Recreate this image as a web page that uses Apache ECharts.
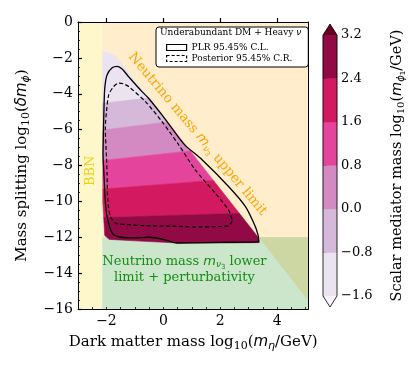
<!DOCTYPE html>
<html>
<head>
<meta charset="utf-8">
<script src="https://cdn.jsdelivr.net/npm/echarts@6/dist/echarts.min.js"></script>
<style>
  html, body { margin: 0; padding: 0; background: #fff; }
  #chart { width: 415px; height: 369px; }
</style>
</head>
<body>
<div id="chart"></div>
<script>
// axis ranges / ticks
var xMin = -3, xMax = 5.1, yMin = -16, yMax = 0;
var xTickValues = [-2, 0, 2, 4];

// colour bar (scalar mediator mass levels)
var cbarLevels = [-1.6, -0.8, 0.0, 0.8, 1.6, 2.4, 3.2];
var cbarColors = ['#ebe4f0', '#d5b8da', '#d389c2', '#e4449b', '#d31a60', '#920a45'];
var cbarUnder = '#f7f4f9', cbarOver = '#67001f';

// excluded regions
var bbnEdgeX = -2.15;              // BBN: x < -2.15
var lowerLimitY = -12;             // neutrino mass lower limit + perturbativity: y < -12
var upperLineX = [-2.15, 5.1];     // neutrino mass upper limit (region right of this line)
var upperLineY = [-0.84, -15.55];

// sampled region (outline) and its colour bands
var scatX = [-2.13, -1.7, 3.33, 3.37, 2.0, 0.5, -1.0, -1.9, -2.06, -2.13];
var scatY = [-1.62, -1.85, -12.0, -12.3, -12.32, -12.32, -12.2, -12.12, -11.9, -10.0];
var bandValue = [-1.2, -0.4, 0.4, 1.2, 2.0, 2.8];
var bandEdgeL = [-4.5, -6.0, -7.7, -9.3, -10.9];   // band boundaries at x = -2
var bandEdgeR = [-3.8, -5.2, -7.0, -8.8, -10.7];   // band boundaries at x = 2

// PLR 95.45% C.L. contour
var plrX = [3.34, 3.23, 2.88, 2.29, 1.36, 0.75, 0.3, -0.05, -0.52, -0.75, -1.22, -1.45, -1.62, -1.8, -1.98, -2.06, -2.09, -2.12, -2.09, -2.04, -1.98, -1.8, -1.5, -0.98, -0.5, -0.05, 0.48, 1.5, 2.5, 3.35, 3.34];
var plrY = [-11.95, -11.4, -10.28, -9.17, -7.68, -6.85, -5.92, -5.18, -4.25, -3.88, -3.05, -2.62, -2.47, -2.55, -2.95, -3.7, -5.0, -7.4, -8.4, -10.0, -10.84, -11.77, -12.0, -12.04, -12.0, -12.1, -12.32, -12.3, -12.28, -12.25, -11.95];

// Posterior 95.45% C.R. contour
var postX = [2.41, 2.29, 1.82, 1.12, 0.54, -0.05, -0.63, -1.22, -1.4, -1.57, -1.75, -1.92, -2.0, -2.04, -2.0, -1.98, -1.95, -1.86, -1.68, -1.2, -0.63, 0.3, 1.12, 2.0, 2.29, 2.41, 2.41];
var postY = [-11.0, -10.47, -9.54, -8.24, -6.85, -5.55, -4.44, -3.6, -3.45, -3.41, -3.6, -4.06, -5.0, -5.92, -7.5, -8.42, -10.0, -10.84, -11.21, -11.3, -11.36, -11.38, -11.43, -11.4, -11.36, -11.1, -11.0];

// text annotations (data coords)
var annoX = [1.2, -2.57, 0.74];
var annoY = [-6.25, -8.3, -13.8];

function zip(xs, ys) { return xs.map(function (x, i) { return [x, ys[i]]; }); }
function fmt(v, d) {
  v = Math.round(v * 10) / 10;
  var s = d ? Math.abs(v).toFixed(d) : String(Math.abs(v));
  return (v < 0 ? '\u2212' : '') + s;
}
function levelColor(v) {
  if (v < cbarLevels[0]) return cbarUnder;
  for (var i = 0; i < cbarColors.length; i++) {
    if (v < cbarLevels[i + 1]) return cbarColors[i];
  }
  return cbarOver;
}
function lineAt(x0, y0, x1, y1, x) { return y0 + (y1 - y0) * (x - x0) / (x1 - x0); }

// keep the part of poly above (or below) band edge e
function clipHalf(poly, keepAbove, e) {
  function side(p) {
    var d = p[1] - lineAt(-2, bandEdgeL[e], 2, bandEdgeR[e], p[0]);
    return keepAbove ? d : -d;
  }
  var out = [];
  for (var i = 0; i < poly.length; i++) {
    var a = poly[i], b = poly[(i + 1) % poly.length];
    var da = side(a), db = side(b);
    if (da >= 0) out.push(a);
    if ((da >= 0) !== (db >= 0)) {
      var t = da / (da - db);
      out.push([a[0] + t * (b[0] - a[0]), a[1] + t * (b[1] - a[1])]);
    }
  }
  return out;
}

var serif = 'DejaVu Serif';
function richStyles(size, color) {
  var sub = Math.round(size * 0.7);
  return {
    t: { fontFamily: serif, fontSize: size, color: color, lineHeight: size + 4 },
    i: { fontFamily: 'DejaVu Sans', fontStyle: 'italic', fontSize: size, color: color, lineHeight: size + 4 },
    s: { fontFamily: serif, fontSize: sub, color: color, padding: [Math.round(size * 0.5), 0, 0, 0] },
    si: { fontFamily: 'DejaVu Sans', fontStyle: 'italic', fontSize: sub, color: color, padding: [Math.round(size * 0.5), 0, 0, 0] },
    ss: { fontFamily: 'DejaVu Sans', fontSize: Math.round(size * 0.5), color: color, padding: [Math.round(size * 0.85), 0, 0, 0] }
  };
}

function renderRegions(params, api) {
  var pts = function (xs, ys) { return xs.map(function (x, i) { return api.coord([x, ys[i]]); }); };
  var xCut = upperLineX[0] + (lowerLimitY - upperLineY[0]) * (upperLineX[1] - upperLineX[0]) / (upperLineY[1] - upperLineY[0]);
  var yEnd = lineAt(upperLineX[0], upperLineY[0], upperLineX[1], upperLineY[1], xMax);
  return {
    type: 'group',
    children: [
      { type: 'polygon', shape: { points: pts([xMin, bbnEdgeX, bbnEdgeX, xMin], [yMax, yMax, yMin, yMin]) }, style: { fill: '#fff7cc' } },
      { type: 'polygon', shape: { points: pts([bbnEdgeX, xMax, xMax, bbnEdgeX], [yMax, yMax, lowerLimitY, lowerLimitY]) }, style: { fill: '#ffedcc' } },
      { type: 'polygon', shape: { points: pts([bbnEdgeX, xMax, xMax, bbnEdgeX], [lowerLimitY, lowerLimitY, yMin, yMin]) }, style: { fill: '#cce6cc' } },
      { type: 'polygon', shape: { points: pts([xCut, xMax, xMax], [lowerLimitY, lowerLimitY, yEnd]) }, style: { fill: '#ccd7a3' } }
    ]
  };
}

function renderBand(params, api) {
  var i = params.dataIndex;
  var poly = zip(scatX, scatY);
  if (i > 0) poly = clipHalf(poly, false, i - 1);
  if (i < bandEdgeL.length) poly = clipHalf(poly, true, i);
  if (poly.length < 3) return null;
  var c = levelColor(bandValue[i]);
  return {
    type: 'polygon',
    shape: { points: poly.map(function (p) { return api.coord(p); }) },
    style: { fill: c, stroke: c, lineWidth: 0.6 }
  };
}

function renderColorbar(params, api) {
  var kids = [];
  for (var i = 0; i < cbarColors.length; i++) {
    var a = api.coord([0, cbarLevels[i]]), b = api.coord([1, cbarLevels[i + 1]]);
    kids.push({ type: 'rect', shape: { x: a[0], y: b[1], width: b[0] - a[0], height: a[1] - b[1] },
      style: { fill: cbarColors[i], stroke: cbarColors[i], lineWidth: 0.4 } });
  }
  var lo = cbarLevels[0], hi = cbarLevels[cbarLevels.length - 1];
  var bl = api.coord([0, lo]), br = api.coord([1, lo]), tl = api.coord([0, hi]), tr = api.coord([1, hi]);
  var ext = 11, mid = (bl[0] + br[0]) / 2;
  var bTip = [mid, bl[1] + ext], tTip = [mid, tl[1] - ext];
  kids.push({ type: 'polygon', shape: { points: [bl, br, bTip] }, style: { fill: cbarUnder } });
  kids.push({ type: 'polygon', shape: { points: [tl, tr, tTip] }, style: { fill: cbarOver } });
  kids.push({ type: 'polygon', shape: { points: [tTip, tr, br, bTip, bl, tl] }, style: { fill: 'none', stroke: '#000', lineWidth: 0.8 } });
  return { type: 'group', children: kids };
}

var annoStyle = [
  { text: 'Neutrino mass {i|m}{si|ν}{ss|3} upper limit', color: '#ffa500', size: 13.5 },
  { text: 'BBN', color: '#f5cd10', size: 13 },
  { text: 'Neutrino mass {i|m}{si|ν}{ss|3} lower\nlimit + perturbativity', color: '#148c14', size: 13 }
];

function renderAnno(params, api) {
  var i = params.dataIndex;
  var p = api.coord([annoX[i], annoY[i]]);
  var rot = 0;
  if (i === 0) rot = -50 * Math.PI / 180;
  else if (i === 1) rot = Math.PI / 2;
  var st = annoStyle[i];
  var rich = richStyles(st.size, st.color);
  return {
    type: 'text', x: p[0], y: p[1], rotation: rot,
    style: {
      text: st.text, rich: rich, fill: st.color, fontFamily: serif, fontSize: st.size,
      lineHeight: st.size + 3, align: 'center', verticalAlign: 'middle'
    }
  };
}

var axisText = { fontFamily: serif, fontSize: 14, color: '#000' };

var chart = echarts.init(document.getElementById('chart'));
chart.setOption({
  animation: false,
  grid: [
    { left: 78, top: 22, width: 230.5, height: 287 },
    { left: 323, top: 35, width: 14, height: 261 }
  ],
  legend: {
    left: 156, top: 27, orient: 'vertical', selectedMode: false,
    padding: [16, 16, 4, 10], itemGap: 2, itemWidth: 20, itemHeight: 6,
    borderColor: '#000', borderWidth: 1, borderRadius: 3, backgroundColor: '#fff',
    textStyle: { fontFamily: serif, fontSize: 9, color: '#000' },
    data: [
      { name: 'PLR 95.45% C.L.', icon: 'rect', itemStyle: { color: '#fff', borderColor: '#000', borderWidth: 1.2 } },
      { name: 'Posterior 95.45% C.R.', icon: 'rect', itemStyle: { color: '#fff', borderColor: '#000', borderWidth: 1.2, borderType: [3, 2] } }
    ]
  },
  graphic: [{
    type: 'text', left: 160, top: 28, z: 100,
    style: { text: '{t|Underabundant DM + Heavy }{i|ν}', rich: richStyles(9, '#000') }
  }],
  xAxis: [
    {
      type: 'value', gridIndex: 0, min: xMin, max: xMax, interval: 0.5, position: 'bottom', z: 10,
      axisLine: { show: true, onZero: false, lineStyle: { color: '#000', width: 1 } },
      axisTick: { show: true, inside: true, length: 2, lineStyle: { color: '#000', width: 0.8 } },
      axisLabel: { show: false }, splitLine: { show: false }
    },
    {
      type: 'value', gridIndex: 0, min: xMin, max: xMax, position: 'bottom', z: 10,
      axisLine: { show: false },
      axisTick: { show: true, inside: true, length: 4, customValues: xTickValues, lineStyle: { color: '#000', width: 1.2 } },
      axisLabel: Object.assign({ show: true, margin: 5, customValues: xTickValues, formatter: function (v) { return fmt(v); } }, axisText),
      splitLine: { show: false },
      name: '{t|Dark matter mass log}{s|10}{t|(}{i|m}{si|η}{t|/GeV)}',
      nameLocation: 'middle', nameGap: 24,
      nameTextStyle: { rich: richStyles(15, '#000') }
    },
    {
      type: 'value', gridIndex: 0, min: xMin, max: xMax, position: 'top', z: 10,
      axisLine: { show: true, onZero: false, lineStyle: { color: '#000', width: 1 } },
      axisTick: { show: false }, axisLabel: { show: false }, splitLine: { show: false }
    },
    { type: 'value', gridIndex: 1, min: 0, max: 1, show: false }
  ],
  yAxis: [
    {
      type: 'value', gridIndex: 0, min: yMin, max: yMax, interval: 2, position: 'left', z: 10,
      axisLine: { show: true, onZero: false, lineStyle: { color: '#000', width: 1 } },
      axisTick: { show: true, inside: true, length: 4, lineStyle: { color: '#000', width: 1.2 } },
      minorTick: { show: true, splitNumber: 4, length: 2, lineStyle: { color: '#000', width: 0.8 } },
      axisLabel: Object.assign({ margin: 5, formatter: function (v) { return fmt(v); } }, axisText),
      splitLine: { show: false }, minorSplitLine: { show: false },
      name: '{t|Mass splitting log}{s|10}{t|(}{i|δm}{si|ϕ}{t|)}',
      nameLocation: 'middle', nameGap: 46, nameRotate: 90,
      nameTextStyle: { rich: richStyles(15, '#000') }
    },
    {
      type: 'value', gridIndex: 0, min: yMin, max: yMax, position: 'right', z: 10,
      axisLine: { show: true, onZero: false, lineStyle: { color: '#000', width: 1 } },
      axisTick: { show: false }, axisLabel: { show: false }, splitLine: { show: false }
    },
    {
      type: 'value', gridIndex: 1, min: cbarLevels[0], max: cbarLevels[cbarLevels.length - 1], interval: 0.8, position: 'right',
      axisLine: { show: false },
      axisTick: { show: true, inside: false, length: 3.5, lineStyle: { color: '#000', width: 1 } },
      axisLabel: { margin: 4, fontFamily: serif, fontSize: 13, color: '#000', formatter: function (v) { return fmt(v, 1); } },
      splitLine: { show: false },
      name: '{t|Scalar mediator mass log}{s|10}{t|(}{i|m}{si|ϕ}{ss|1}{t|/GeV)}',
      nameLocation: 'middle', nameGap: 51, nameRotate: 90,
      nameTextStyle: { rich: richStyles(14.5, '#000') }
    }
  ],
  series: [
    {
      type: 'custom', name: 'regions', xAxisIndex: 0, yAxisIndex: 0, z: 1, silent: true,
      renderItem: renderRegions, data: [[0, 0]]
    },
    {
      type: 'custom', name: 'samples', xAxisIndex: 0, yAxisIndex: 0, z: 2, silent: true,
      renderItem: renderBand, data: bandValue.map(function (v, i) { return [i, v]; })
    },
    {
      type: 'line', name: 'PLR 95.45% C.L.', xAxisIndex: 0, yAxisIndex: 0, z: 3, silent: true,
      data: zip(plrX, plrY), symbol: 'none', smooth: 0.25,
      lineStyle: { color: '#000', width: 1.3 }, itemStyle: { color: '#000' }
    },
    {
      type: 'line', name: 'Posterior 95.45% C.R.', xAxisIndex: 0, yAxisIndex: 0, z: 3, silent: true,
      data: zip(postX, postY), symbol: 'none', smooth: 0.25,
      lineStyle: { color: '#000', width: 1.2, type: [4, 2.5] }, itemStyle: { color: '#000' }
    },
    {
      type: 'custom', name: 'annotations', xAxisIndex: 0, yAxisIndex: 0, z: 3.5, silent: true,
      renderItem: renderAnno, data: zip(annoX, annoY)
    },
    {
      type: 'custom', name: 'colorbar', xAxisIndex: 3, yAxisIndex: 2, z: 2, silent: true,
      renderItem: renderColorbar, data: [[0, cbarLevels[0]]]
    }
  ]
});
</script>
</body>
</html>
